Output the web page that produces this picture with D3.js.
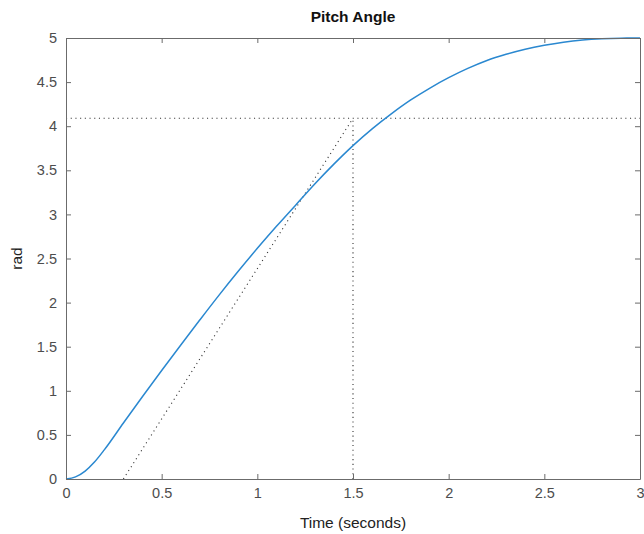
<!DOCTYPE html>
<html><head><meta charset="utf-8">
<script src="https://cdn.jsdelivr.net/npm/d3@7"></script>
<style>body{margin:0;background:#fff}svg{display:block}text{font-family:"Liberation Sans",Arial,Helvetica,sans-serif}</style>
</head><body>
<script>
const timeValues = [0,0.05,0.1,0.15,0.2,0.3,0.4,0.5,0.6,0.7,0.8,0.9,1.0,1.1,1.2,1.3,1.4,1.5,1.6,1.7,1.8,1.9,2.0,2.1,2.2,2.3,2.4,2.5,2.6,2.7,2.8,2.9,3.0];
const pitchValues = [0,0.024,0.09,0.195,0.33,0.635,0.935,1.23,1.52,1.805,2.085,2.355,2.615,2.865,3.105,3.345,3.57,3.78,3.97,4.14,4.295,4.43,4.55,4.655,4.745,4.815,4.873,4.918,4.953,4.977,4.991,4.998,5.0];
const xTicks = [0,0.5,1,1.5,2,2.5,3];
const yTicks = [0,0.5,1,1.5,2,2.5,3,3.5,4,4.5,5];
const refLevel = 4.09;       // horizontal dotted reference
const refTime = 1.5;         // vertical dotted reference
const slopeStart = [0.3, 0]; // start of dotted slope line
const slopeEnd = [1.5, 4.09];

const W = 644, H = 534;
const m = {left:66, right:4, top:38, bottom:55};
const svg = d3.select("body").append("svg").attr("width",W).attr("height",H);
const x = d3.scaleLinear().domain([0,3]).range([m.left, W-m.right]);
const y = d3.scaleLinear().domain([0,5]).range([H-m.bottom, m.top]);
const axisColor = "#6b6b6b", labelColor = "#4d4d4d";

// dotted lines
const dot = {stroke:"#333", "stroke-width":1.1, "stroke-dasharray":"1.1,3.6"};
function dl(x1,y1,x2,y2){
  const l = svg.append("line").attr("x1",x1).attr("y1",y1).attr("x2",x2).attr("y2",y2);
  for (const k in dot) l.attr(k,dot[k]);
}
dl(x(0), y(refLevel), x(3), y(refLevel));
dl(x(refTime), y(0), x(refTime), y(refLevel));
dl(x(slopeStart[0]), y(slopeStart[1]), x(slopeEnd[0]), y(slopeEnd[1]));

// curve
const line = d3.line().x((d,i)=>x(timeValues[i])).y(d=>y(d)).curve(d3.curveMonotoneX);
svg.append("path").datum(pitchValues).attr("d",line).attr("fill","none")
  .attr("stroke","#2a88d0").attr("stroke-width",1.5);

// axes
const gx = svg.append("g").attr("transform",`translate(0,${y(0)})`)
  .call(d3.axisBottom(x).tickValues(xTicks).tickFormat(d3.format("~g")).tickSizeInner(-5).tickSizeOuter(0).tickPadding(9));
const gxt = svg.append("g").attr("transform",`translate(0,${y(5)})`)
  .call(d3.axisTop(x).tickValues(xTicks).tickFormat("").tickSizeInner(-5).tickSizeOuter(0));
const gy = svg.append("g").attr("transform",`translate(${x(0)},0)`)
  .call(d3.axisLeft(y).tickValues(yTicks).tickFormat(d3.format("~g")).tickSizeInner(-5).tickSizeOuter(0).tickPadding(9));
const gyr = svg.append("g").attr("transform",`translate(${x(3)},0)`)
  .call(d3.axisRight(y).tickValues(yTicks).tickFormat("").tickSizeInner(-5).tickSizeOuter(0));
[gx,gxt,gy,gyr].forEach(g=>{
  g.selectAll("path,line").attr("stroke",axisColor).attr("stroke-width",1);
  g.selectAll("text").attr("fill",labelColor).style("font-size","14.5px");
});

svg.append("text").attr("x",(x(0)+x(3))/2).attr("y",22).attr("text-anchor","middle")
  .style("font-size","15.5px").style("font-weight","bold").attr("fill","#111").text("Pitch Angle");
svg.append("text").attr("x",(x(0)+x(3))/2).attr("y",528).attr("text-anchor","middle")
  .style("font-size","15.5px").attr("fill","#222").text("Time (seconds)");
svg.append("text").attr("transform",`translate(22,${(y(0)+y(5))/2}) rotate(-90)`).attr("text-anchor","middle")
  .style("font-size","15.5px").attr("fill","#222").text("rad");
</script>
</body></html>
